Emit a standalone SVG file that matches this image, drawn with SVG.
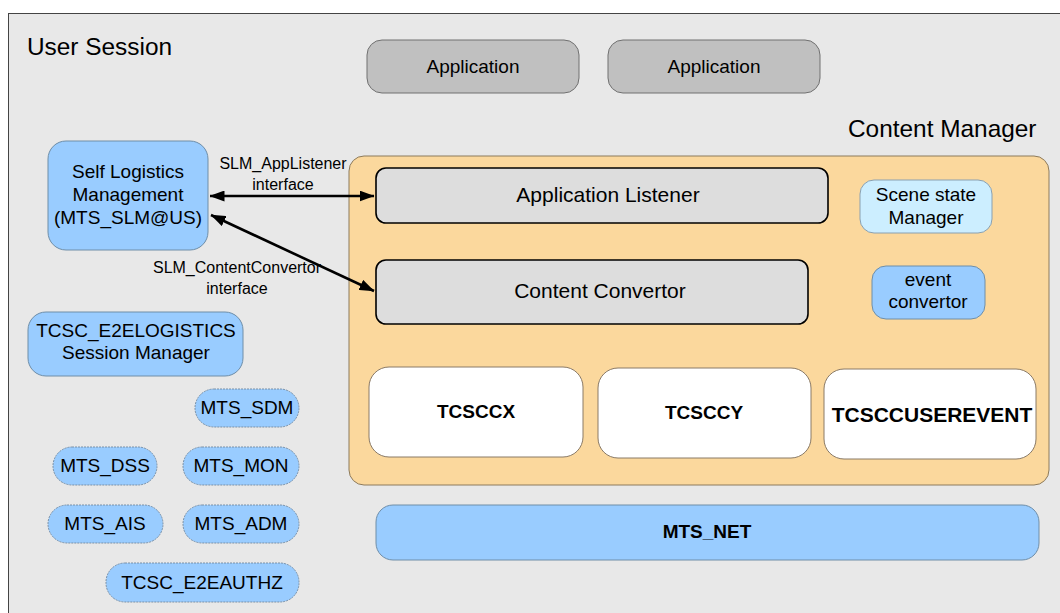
<svg xmlns="http://www.w3.org/2000/svg" width="1060" height="613" viewBox="0 0 1060 613">
  <defs>
    <style>
      text { font-family: "Liberation Sans", Arial, sans-serif; fill: #000; text-anchor: middle; }
      .title { font-size: 24.4px; text-anchor: start; }
      .lbl { font-size: 19px; }
      .big { font-size: 21px; }
      .small { font-size: 16px; }
      .bold { font-weight: bold; }
      .app { fill: #c0c0c0; stroke: #707070; stroke-width: 1; }
      .blue { fill: #99ccff; stroke: #6f8ea8; stroke-width: 1; }
      .pill { fill: #99ccff; stroke: #7890a8; stroke-width: 1; stroke-dasharray: 2 1; }
      .lightblue { fill: #cceeff; stroke: #8aa0b0; stroke-width: 1; }
      .mgr { fill: #fbd89d; stroke: #8c7a5c; stroke-width: 1; }
      .comp { fill: #dddddd; stroke: #000; stroke-width: 1.6; }
      .cc { fill: #ffffff; stroke: #8a7a66; stroke-width: 1; }
      .conn { stroke: #000; stroke-width: 2.6; fill: none; marker-start: url(#head); marker-end: url(#head); }
    </style>
    <marker id="head" viewBox="0 0 15 11" refX="14.5" refY="5.5" markerWidth="15" markerHeight="11" orient="auto-start-reverse" markerUnits="userSpaceOnUse">
      <path d="M0,0 L15,5.5 L0,11 z" fill="#000"/>
    </marker>
  </defs>

  <!-- User Session container -->
  <g id="user-session">
    <rect x="8.5" y="13.5" width="1060" height="610" fill="#e8e8e8" stroke="#444" stroke-width="1"/>
    <text class="title" x="27" y="55">User Session</text>
  </g>

  <!-- Applications -->
  <g id="app1">
    <rect class="app" x="367" y="40" width="212" height="53" rx="15"/>
    <text class="lbl" x="473" y="73">Application</text>
  </g>
  <g id="app2">
    <rect class="app" x="608" y="40" width="212" height="53" rx="15"/>
    <text class="lbl" x="714" y="73">Application</text>
  </g>

  <!-- Content Manager container -->
  <g id="content-manager">
    <text class="title" x="848" y="137">Content Manager</text>
    <rect class="mgr" x="349" y="156" width="700" height="329" rx="15"/>
  </g>

  <g id="app-listener">
    <rect class="comp" x="376" y="168" width="452" height="55" rx="10"/>
    <text class="big" x="608" y="202">Application Listener</text>
  </g>
  <g id="content-convertor">
    <rect class="comp" x="376" y="260" width="432" height="64" rx="10"/>
    <text class="big" x="600" y="298">Content Convertor</text>
  </g>
  <g id="scene-state-manager">
    <rect class="lightblue" x="860" y="180" width="132" height="53" rx="14"/>
    <text class="lbl" x="926" y="201" font-size="18">Scene state</text>
    <text class="lbl" x="926" y="224" font-size="18">Manager</text>
  </g>
  <g id="event-convertor">
    <rect class="blue" x="872" y="266" width="113" height="53" rx="14"/>
    <text class="lbl" x="928" y="286" font-size="18">event</text>
    <text class="lbl" x="928" y="308" font-size="18">convertor</text>
  </g>

  <g id="tcsccx">
    <rect class="cc" x="369" y="367" width="214" height="90" rx="20"/>
    <text class="lbl bold" x="476" y="418">TCSCCX</text>
  </g>
  <g id="tcsccy">
    <rect class="cc" x="598" y="368" width="213" height="90" rx="20"/>
    <text class="lbl bold" x="704" y="419">TCSCCY</text>
  </g>
  <g id="tcsccuserevent">
    <rect class="cc" x="824" y="369" width="212" height="90" rx="20"/>
    <text class="big bold" x="932" y="422">TCSCCUSEREVENT</text>
  </g>

  <g id="mts-net">
    <rect class="blue" x="376" y="505" width="663" height="55" rx="17"/>
    <text class="lbl bold" x="707" y="538">MTS_NET</text>
  </g>

  <!-- Left column services -->
  <g id="slm">
    <rect class="blue" x="48" y="141" width="160" height="109" rx="18"/>
    <text class="lbl" x="128" y="178">Self Logistics</text>
    <text class="lbl" x="128" y="201">Management</text>
    <text class="lbl" x="128" y="224">(MTS_SLM@US)</text>
  </g>
  <g id="e2elogistics">
    <rect class="blue" x="28" y="312" width="215" height="64" rx="18"/>
    <text class="lbl" x="136" y="337">TCSC_E2ELOGISTICS</text>
    <text class="lbl" x="136" y="359">Session Manager</text>
  </g>
  <g id="mts-sdm">
    <rect class="pill" x="195" y="389" width="104" height="38" rx="19"/>
    <text class="lbl" x="247" y="414">MTS_SDM</text>
  </g>
  <g id="mts-dss">
    <rect class="pill" x="53" y="447" width="104" height="38" rx="19"/>
    <text class="lbl" x="105" y="472">MTS_DSS</text>
  </g>
  <g id="mts-mon">
    <rect class="pill" x="183" y="447" width="116" height="38" rx="19"/>
    <text class="lbl" x="241" y="472">MTS_MON</text>
  </g>
  <g id="mts-ais">
    <rect class="pill" x="48" y="505" width="115" height="38" rx="19"/>
    <text class="lbl" x="105" y="530">MTS_AIS</text>
  </g>
  <g id="mts-adm">
    <rect class="pill" x="183" y="505" width="116" height="38" rx="19"/>
    <text class="lbl" x="241" y="530">MTS_ADM</text>
  </g>
  <g id="e2eauthz">
    <rect class="pill" x="106" y="563" width="193" height="39" rx="19"/>
    <text class="lbl" x="202" y="589">TCSC_E2EAUTHZ</text>
  </g>

  <!-- Interfaces between SLM and the Content Manager -->
  <g id="connectors">
    <line class="conn" x1="210" y1="196" x2="374" y2="196"/>
    <line class="conn" x1="211" y1="215" x2="374" y2="291"/>
    <text class="small" x="283" y="169">SLM_AppListener</text>
    <text class="small" x="283" y="190">interface</text>
    <text class="small" x="237" y="273">SLM_ContentConvertor</text>
    <text class="small" x="237" y="294">interface</text>
  </g>
</svg>
